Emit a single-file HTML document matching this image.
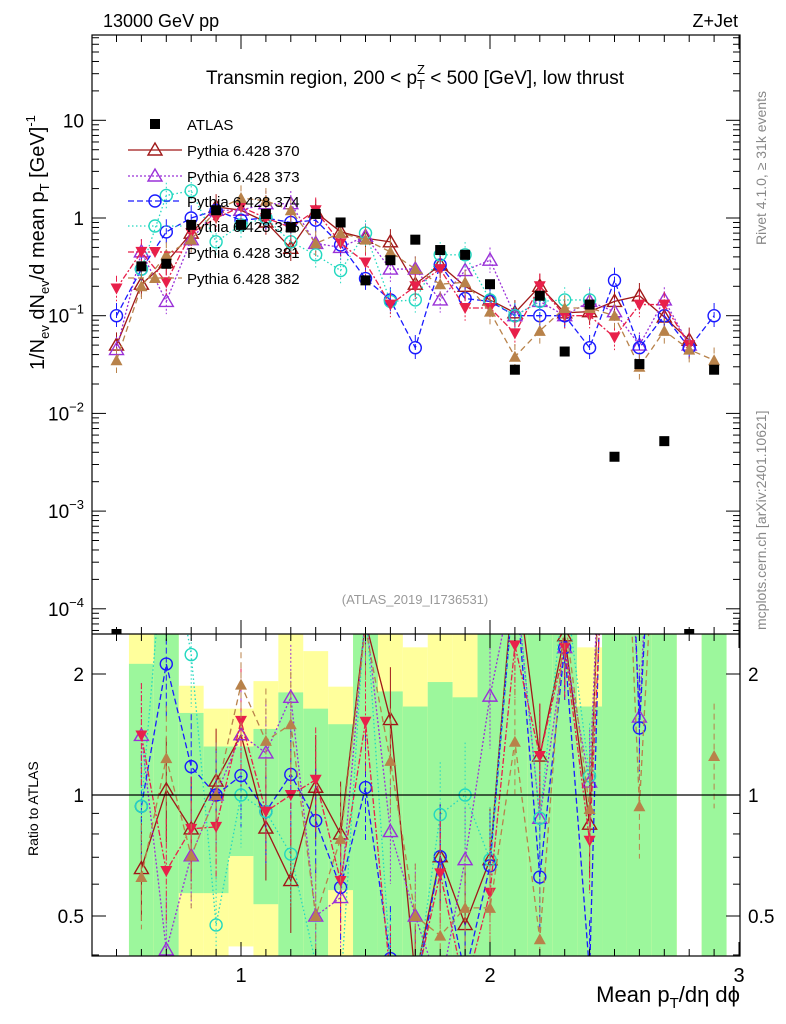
<!DOCTYPE html>
<html><head><meta charset="utf-8"><style>
html,body{margin:0;padding:0;background:#fff;width:786px;height:1024px;overflow:hidden}
svg{display:block;font-family:"Liberation Sans",sans-serif}
</style></head><body>
<svg id="c" width="786" height="1024" viewBox="0 0 786 1024" xmlns="http://www.w3.org/2000/svg">
<defs>
<clipPath id="cm"><rect x="92" y="35" width="648" height="599"/></clipPath>
<clipPath id="cr"><rect x="92" y="634" width="648" height="322"/></clipPath>
</defs>
<g id="bands" clip-path="url(#cr)"></g>
<g id="ratio" clip-path="url(#cr)"></g>
<g id="main" clip-path="url(#cm)"></g>
<g id="axes"></g>
<g id="txt">
<text x="103" y="27" font-size="18">13000 GeV pp</text>
<text x="738" y="27" font-size="18" text-anchor="end">Z+Jet</text>
<text x="415" y="84" font-size="19" text-anchor="middle">Transmin region, 200 &lt; p<tspan font-size="13" dy="5">T</tspan><tspan font-size="13" dy="-15" dx="-8">Z</tspan><tspan dy="10"> &lt; 500 [GeV], low thrust</tspan></text>
<text x="415" y="604" font-size="13" fill="#999" text-anchor="middle">(ATLAS_2019_I1736531)</text>
<text transform="translate(766,245) rotate(-90)" font-size="14" fill="#888">Rivet 4.1.0, ≥ 31k events</text>
<text transform="translate(766,630) rotate(-90)" font-size="14" fill="#888">mcplots.cern.ch [arXiv:2401.10621]</text>
<text transform="translate(44,370) rotate(-90)" font-size="20">1/N<tspan font-size="13" dy="5">ev</tspan><tspan dy="-5"> dN</tspan><tspan font-size="13" dy="5">ev</tspan><tspan dy="-5">/d mean p</tspan><tspan font-size="13" dy="5">T</tspan><tspan dy="-5"> [GeV]</tspan><tspan font-size="13" dy="-9">-1</tspan></text>
<text transform="translate(38,856) rotate(-90)" font-size="14">Ratio to ATLAS</text>
<text x="740" y="1002" font-size="22" text-anchor="end">Mean p<tspan font-size="15" dy="6">T</tspan><tspan dy="-6">/dη dϕ</tspan></text>
</g>
<g id="legend"></g>
</svg>
<script>
const bins=[0.5,0.6,0.7,0.8,0.9,1.0,1.1,1.2,1.3,1.4,1.5,1.6,1.7,1.8,1.9,2.0,2.1,2.2,2.3,2.4,2.5,2.6,2.7,2.8,2.9];
const atlas=[0.00001,0.32,0.34,0.85,1.2,0.85,1.1,0.8,1.1,0.9,0.23,0.37,0.6,0.47,0.42,0.21,0.028,0.16,0.043,0.13,0.0036,0.032,0.0052,0.00001,0.028];
const s370=[0.05,0.21,0.35,0.7,1.3,1.2,0.91,0.49,1.15,0.72,0.62,0.57,0.21,0.33,0.2,0.145,0.107,0.2,0.107,0.11,0.14,0.16,0.097,0.056,null];
const s373=[0.045,0.45,0.14,0.6,1.2,1.2,1.4,1.4,0.55,0.5,0.65,0.3,0.3,0.145,0.29,0.37,0.1,0.14,0.1,0.14,0.11,0.05,0.145,0.05,null];
const s374=[0.1,0.3,0.72,1.0,1.2,0.95,1.0,0.9,0.95,0.53,0.24,0.145,0.047,0.33,0.15,0.14,0.1,0.1,0.1,0.047,0.23,0.047,0.1,0.047,0.1];
const s375=[null,0.3,1.7,1.9,0.57,0.85,1.0,0.57,0.42,0.29,0.7,0.14,0.145,0.42,0.42,0.145,0.1,0.14,0.145,0.145,null,null,null,null,null];
const s381=[0.19,0.45,0.22,0.7,1.0,1.3,1.0,0.8,1.2,0.55,0.35,0.13,0.2,0.3,0.12,0.12,0.066,0.2,0.1,0.1,0.06,0.13,0.13,0.05,null];
const s382=[0.035,0.2,0.42,0.6,1.2,1.6,1.5,1.2,0.55,0.7,0.6,0.45,0.3,0.21,0.22,0.11,0.038,0.07,0.12,0.12,0.1,0.03,0.07,0.045,0.035];
const seriesNames=["Pythia 6.428 370","Pythia 6.428 373","Pythia 6.428 374","Pythia 6.428 375","Pythia 6.428 381","Pythia 6.428 382"];
const yHi=[null,3,3,1.87,1.64,1.64,1.92,3,2.28,1.86,3,3,2.33,3,3,3,3,3,3,2.33,3,3,3,null,3];
const gHi=[null,2.12,3,1.6,1.32,1.32,1.46,1.8,1.64,1.5,3,1.81,1.66,1.91,1.75,3,3,3,3,1.66,3,3,3,null,3];
const gLo=[null,0.3,0.3,0.57,0.57,0.705,0.535,0.3,0.3,0.58,0.3,0.3,0.3,0.3,0.3,0.3,0.3,0.3,0.3,0.3,0.3,0.3,0.3,null,0.3];
const yLo=[null,0.3,0.3,0.3,0.3,0.42,0.3,0.3,0.3,0.3,0.3,0.3,0.3,0.3,0.3,0.3,0.3,0.3,0.3,0.3,0.3,0.3,0.3,null,0.3];

const NS="http://www.w3.org/2000/svg";
const X=v=>241+(v-1)*249;
const clampY=y=>Math.max(30,Math.min(990,y));
const Y=v=>clampY(218-97.7*Math.log10(v));
const R=r=>clampY(795-121*Math.log2(r));
function mk(tag,attrs,parent){const e=document.createElementNS(NS,tag);for(const k in attrs)e.setAttribute(k,attrs[k]);parent.appendChild(e);return e;}
const G=id=>document.getElementById(id);

const bandG=G('bands');
bins.forEach((b,i)=>{
  if(yHi[i]===null)return;
  const x0=X(b-0.05),w=X(b+0.05)-x0;
  let e=mk('rect',{x:x0,y:R(yHi[i]),width:w,height:R(yLo[i])-R(yHi[i]),fill:'#ffff9c'},bandG);
  
  
  e=mk('rect',{x:x0,y:R(gHi[i]),width:w,height:R(gLo[i])-R(gHi[i]),fill:'#9cf79c'},bandG);
  
  
});

const styles=[
 {c:'#a01818',d:'',m:'tri-open'},
 {c:'#9a30d8',d:'2,2',m:'tri-open'},
 {c:'#1a1aff',d:'6,3',m:'circ-open'},
 {c:'#22d8c0',d:'1.5,2.5',m:'circ-open'},
 {c:'#e8204a',d:'6,2,2,2',m:'tri-down'},
 {c:'#b8824a',d:'6,4',m:'tri-fill'}];
const allS=[s370,s373,s374,s375,s381,s382];

function marker(g,m,x,y,c){
  let e;
  if(m==='tri-open') e=mk('path',{d:`M${x-7},${y+5}L${x+7},${y+5}L${x},${y-7}Z`,fill:'none',stroke:c,'stroke-width':1.4},g);
  else if(m==='tri-fill') e=mk('path',{d:`M${x-6},${y+5}L${x+6},${y+5}L${x},${y-6}Z`,fill:c},g);
  else if(m==='tri-down') e=mk('path',{d:`M${x-6},${y-5}L${x+6},${y-5}L${x},${y+6}Z`,fill:c},g);
  else if(m==='circ-open') e=mk('circle',{cx:x,cy:y,r:6,fill:'none',stroke:c,'stroke-width':1.4},g);
  else e=mk('rect',{x:x-5,y:y-5,width:10,height:10,fill:c},g);
  
  
}

function drawSeries(gid,vals,st,fy,name){
  const g=mk('g',{},G(gid));
  
  
  let pts=[];
  vals.forEach((v,i)=>{ if(v===null||!isFinite(v)||v<=0){ if(pts.length>1) poly(pts); pts=[]; return;} pts.push([X(bins[i]),fy(v)]);});
  if(pts.length>1) poly(pts);
  function poly(p){const l=mk('polyline',{points:p.map(q=>q.join(',')).join(' '),fill:'none',stroke:st.c,'stroke-width':1.3,'stroke-dasharray':st.d},g);
    }
  vals.forEach((v,i)=>{ if(v===null||!isFinite(v)||v<=0)return; const x=X(bins[i]),y=fy(v);
    if(y<=30||y>=990)return;
    const eb=mk('line',{x1:x,x2:x,y1:fy(v*1.35),y2:fy(v/1.35),stroke:st.c,'stroke-width':1,'stroke-dasharray':st.d},g);
    
    marker(g,st.m,x,y,st.c);});
}

allS.forEach((s,k)=>drawSeries('main',s,styles[k],Y,'series-'+seriesNames[k].split(' ')[2]));
const ag=mk('g',{},G('main'));


atlas.forEach((v,i)=>{const y=v<1e-4?634:Y(v);marker(ag,'sq',X(bins[i]),y,'#000');});

allS.forEach((s,k)=>{
  const r=s.map((v,i)=>(v===null||atlas[i]<1e-4)?null:v/atlas[i]);
  drawSeries('ratio',r,styles[k],R,'ratio-'+seriesNames[k].split(' ')[2]);
});

const ax=G('axes');
mk('rect',{x:92,y:35,width:648,height:921,fill:'none',stroke:'#000','stroke-width':1.2},ax);
mk('line',{x1:92,x2:740,y1:634,y2:634,stroke:'#000','stroke-width':1.2},ax);
mk('line',{x1:92,x2:740,y1:795,y2:795,stroke:'#000','stroke-width':1.2},ax);
const yTickLabels=['10','1','10⁻¹','10⁻²','10⁻³','10⁻⁴'];
const yTickVals=[10,1,0.1,0.01,0.001,0.0001];
for(let d=-5;d<=1;d++)for(let m=1;m<=9;m++){const v=m*Math.pow(10,d);const y=218-97.7*Math.log10(v);if(y<35||y>634)continue;const L=m===1?14:7;
  mk('line',{x1:92,x2:92+L,y1:y,y2:y,stroke:'#000'},ax);mk('line',{x1:740-L,x2:740,y1:y,y2:y,stroke:'#000'},ax);}
yTickVals.forEach((v,i)=>{const y=Y(v);let t;
  if(i<2){t=mk('text',{x:84,y:y+7,'font-size':19,'text-anchor':'end'},ax);t.textContent=yTickLabels[i];}
  else{t=mk('text',{x:84,y:y+7,'font-size':19,'text-anchor':'end'},ax);
    t.innerHTML='10<tspan font-size="13" dy="-9">−'+(i-1)+'</tspan>';}
  });
const rTicks=[0.4,0.5,0.6,0.7,0.8,0.9,1,2];
rTicks.forEach(r=>{const y=R(r);const L=(r===0.5||r===1||r===2)?14:7;
  mk('line',{x1:92,x2:92+L,y1:y,y2:y,stroke:'#000'},ax);mk('line',{x1:740-L,x2:740,y1:y,y2:y,stroke:'#000'},ax);});
const rLabels=['2','1','0.5'],rVals=[2,1,0.5];
rVals.forEach((r,i)=>{let t=mk('text',{x:84,y:R(r)+7,'font-size':19,'text-anchor':'end'},ax);t.textContent=rLabels[i];
  
  t=mk('text',{x:748,y:R(r)+7,'font-size':19},ax);t.textContent=rLabels[i];
  });
for(let i=5;i<=30;i++){const v=i/10,x=X(v);const L=i%10===0?14:7;
  [[35,35+L],[634-L,634],[634,634+L],[956-L,956]].forEach(([a,b])=>mk('line',{x1:x,x2:x,y1:a,y2:b,stroke:'#000'},ax));}
const xLabels=['1','2','3'],xVals=[1,2,3];
xVals.forEach((v,i)=>{const t=mk('text',{x:X(v),y:982,'font-size':20,'text-anchor':'middle'},ax);t.textContent=xLabels[i];
  });

const lg=G('legend');
const ly=[124,150,176,201,226,252,278];
marker(lg,'sq',155,ly[0],'#000');
let t=mk('text',{x:187,y:ly[0]+6,'font-size':15},lg);t.textContent='ATLAS';

styles.forEach((st,k)=>{const y=ly[k+1];
  const l=mk('line',{x1:128,x2:182,y1:y,y2:y,stroke:st.c,'stroke-width':1.3,'stroke-dasharray':st.d},lg);
  
  marker(lg,st.m,155,y,st.c);
  const tt=mk('text',{x:187,y:y+6,'font-size':15},lg);tt.textContent=seriesNames[k];
  });
</script>
</body></html>
